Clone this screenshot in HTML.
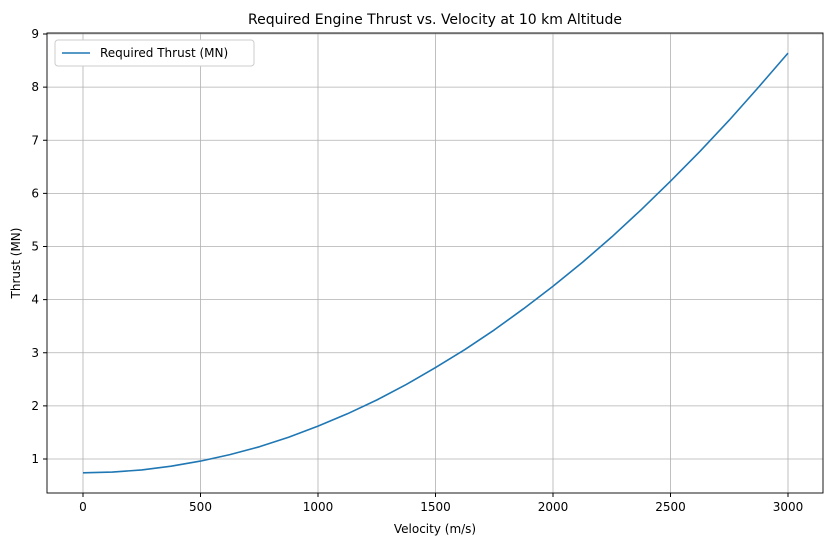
<!DOCTYPE html>
<html><head><meta charset="utf-8"><style>
body{margin:0;background:#fff;font-family:"Liberation Sans","DejaVu Sans",sans-serif;}
svg text{font-family:"DejaVu Sans","Liberation Sans",sans-serif;fill:#000;}
</style></head><body>
<svg id="c" width="833" height="547">
<text x="435" y="24" font-size="14" text-anchor="middle">Required Engine Thrust vs. Velocity at 10 km Altitude</text>
<g id="grid"></g><g id="ticks"></g>
<rect x="47" y="33" width="776" height="460" fill="none" stroke="#000" stroke-width="0.9"/>
<path id="line" fill="none" stroke="#1f77b4" stroke-width="1.6" stroke-linejoin="round"/>
<text x="435" y="533" font-size="12" text-anchor="middle">Velocity (m/s)</text>
<text transform="translate(20,263) rotate(-90)" font-size="12" text-anchor="middle">Thrust (MN)</text>
<g>
<rect x="55" y="40" width="199" height="26" rx="3" fill="#fff" stroke="#ccc"/>
<line x1="62" y1="53" x2="90" y2="53" stroke="#1f77b4" stroke-width="1.6"/>
<text x="100" y="57" font-size="12">Required Thrust (MN)</text>
</g>
</svg>
<script>
const velocities=[0,125,250,375,500,625,750,875,1000,1125,1250,1375,1500,1625,1750,1875,2000,2125,2250,2375,2500,2625,2750,2875,3000];
const thrust=[0.74,0.754,0.795,0.864,0.96,1.083,1.23,1.41,1.62,1.85,2.11,2.40,2.72,3.06,3.43,3.83,4.25,4.70,5.18,5.69,6.23,6.79,7.38,8.00,8.64];
const xTicks=[0,500,1000,1500,2000,2500,3000];
const yTicks=[1,2,3,4,5,6,7,8,9];
const X=v=>83+(v/3000)*705;
const Y=t=>459-(t-1)*53.125;
const ns="http://www.w3.org/2000/svg";
const grid=document.getElementById('grid'),ticks=document.getElementById('ticks');
function mk(tag,attrs,parent){const e=document.createElementNS(ns,tag);for(const k in attrs)e.setAttribute(k,attrs[k]);parent.appendChild(e);return e;}
xTicks.forEach(v=>{const x=X(v);
const g=mk('line',{x1:x,x2:x,y1:33,y2:493,stroke:'#b0b0b0','stroke-width':0.8},grid);


mk('line',{x1:x,x2:x,y1:493,y2:497,stroke:'#000'},ticks);
const t=mk('text',{x:x,y:511,'font-size':12,'text-anchor':'middle'},ticks);t.textContent=v;

});
yTicks.forEach(v=>{const y=Y(v);
const g=mk('line',{x1:47,x2:823,y1:y,y2:y,stroke:'#b0b0b0','stroke-width':0.8},grid);


mk('line',{x1:43,x2:47,y1:y,y2:y,stroke:'#000'},ticks);
const t=mk('text',{x:39,y:y+4,'font-size':12,'text-anchor':'end'},ticks);t.textContent=v;

});
document.getElementById('line').setAttribute('d',velocities.map((v,i)=>(i?'L':'M')+X(v).toFixed(1)+','+Y(thrust[i]).toFixed(1)).join(''));
</script>
</body></html>
